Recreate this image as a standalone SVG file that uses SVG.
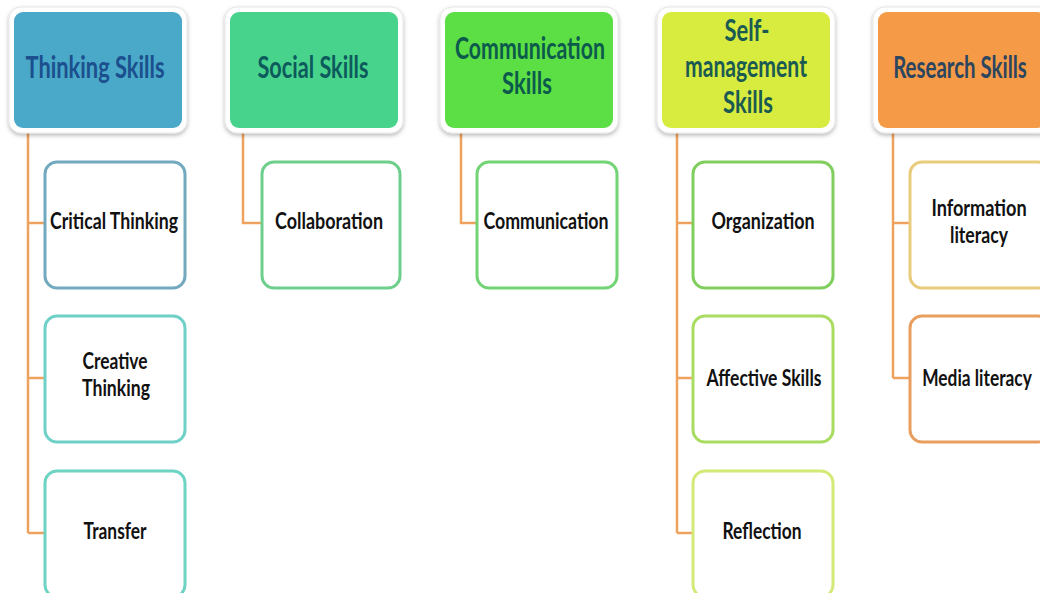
<svg xmlns="http://www.w3.org/2000/svg" width="1040" height="593" viewBox="0 0 1040 593">
<defs>
<filter id="sh" x="-10%" y="-10%" width="120%" height="125%">
<feDropShadow dx="0" dy="2" stdDeviation="2" flood-color="#000" flood-opacity="0.28"/>
</filter>
</defs>
<style>
.rim{fill:#fff;stroke:#e6e6e6;stroke-width:1}
.hd{font-family:Lato,"Liberation Sans",sans-serif;font-weight:bold;font-size:31px;text-anchor:middle}
.ch{fill:#fff;stroke-width:3}
.ct{font-family:Lato,"Liberation Sans",sans-serif;font-weight:bold;font-size:22px;text-anchor:middle;fill:#111}
.cn{fill:none;stroke:#EFA25E;stroke-width:2.5}
</style>
<rect width="1040" height="593" fill="#fff"/>

<g id="connectors">
<path class="cn" d="M28,130 V533 M28,223 H45 M28,378 H45 M28,533 H45"/>
<path class="cn" d="M243,130 V223 H262"/>
<path class="cn" d="M461,130 V223 H477"/>
<path class="cn" d="M677,130 V533 M677,223 H693 M677,378 H693 M677,533 H693"/>
<path class="cn" d="M893,130 V378 M893,223 H910 M893,378 H910"/>
</g>

<g id="thinking-skills">
<rect class="rim" x="9" y="7" width="178" height="126" rx="12" filter="url(#sh)"/>
<rect x="14" y="12" width="168" height="116" rx="9" fill="#4AA9C8"/>
<text class="hd" x="95" y="78" fill="#1B4F8E" textLength="139" lengthAdjust="spacingAndGlyphs">Thinking Skills</text>
</g>
<g id="social-skills">
<rect class="rim" x="225" y="7" width="178" height="126" rx="12" filter="url(#sh)"/>
<rect x="230" y="12" width="168" height="116" rx="9" fill="#48D38C"/>
<text class="hd" x="313" y="78" fill="#0D5A5C" textLength="111" lengthAdjust="spacingAndGlyphs">Social Skills</text>
</g>
<g id="communication-skills">
<rect class="rim" x="440" y="7" width="178" height="126" rx="12" filter="url(#sh)"/>
<rect x="445" y="12" width="168" height="116" rx="9" fill="#5BDF44"/>
<text class="hd" x="530" y="59" fill="#0C5A4C" textLength="150" lengthAdjust="spacingAndGlyphs">Communication</text>
<text class="hd" x="527" y="94" fill="#0C5A4C" textLength="50" lengthAdjust="spacingAndGlyphs">Skills</text>
</g>
<g id="self-management-skills">
<rect class="rim" x="657" y="7" width="178" height="126" rx="12" filter="url(#sh)"/>
<rect x="662" y="12" width="168" height="116" rx="9" fill="#D7EC3E"/>
<text class="hd" x="747" y="41" fill="#1A5A52" textLength="45" lengthAdjust="spacingAndGlyphs">Self-</text>
<text class="hd" x="746" y="77" fill="#1A5A52" textLength="122" lengthAdjust="spacingAndGlyphs">management</text>
<text class="hd" x="748" y="113" fill="#1A5A52" textLength="50" lengthAdjust="spacingAndGlyphs">Skills</text>
</g>
<g id="research-skills">
<rect class="rim" x="873" y="7" width="178" height="126" rx="12" filter="url(#sh)"/>
<rect x="878" y="12" width="168" height="116" rx="9" fill="#F59A46"/>
<text class="hd" transform="translate(960,78) scale(0.7,1)" x="0" y="0" fill="#2C4560" textLength="191" lengthAdjust="spacingAndGlyphs">Research Skills</text>
</g>

<g id="critical-thinking">
<rect class="ch" x="45" y="162" width="140" height="126" rx="12" stroke="#72A9BF"/>
<text class="ct" x="114" y="229" textLength="128" lengthAdjust="spacingAndGlyphs">Critical Thinking</text>
</g>
<g id="creative-thinking">
<rect class="ch" x="45" y="316" width="140" height="126" rx="12" stroke="#6FD0C8"/>
<text class="ct" x="115" y="369" textLength="65" lengthAdjust="spacingAndGlyphs">Creative</text>
<text class="ct" x="116" y="396" textLength="68" lengthAdjust="spacingAndGlyphs">Thinking</text>
</g>
<g id="transfer">
<rect class="ch" x="45" y="471" width="140" height="126" rx="12" stroke="#6DD3C2"/>
<text class="ct" x="115" y="539" textLength="63" lengthAdjust="spacingAndGlyphs">Transfer</text>
</g>
<g id="collaboration">
<rect class="ch" x="262" y="162" width="138" height="126" rx="12" stroke="#6ECF8C"/>
<text class="ct" x="329" y="229" textLength="108" lengthAdjust="spacingAndGlyphs">Collaboration</text>
</g>
<g id="communication">
<rect class="ch" x="477" y="162" width="140" height="126" rx="12" stroke="#72D474"/>
<text class="ct" x="546" y="229" textLength="125" lengthAdjust="spacingAndGlyphs">Communication</text>
</g>
<g id="organization">
<rect class="ch" x="693" y="162" width="140" height="126" rx="12" stroke="#80CF5E"/>
<text class="ct" x="763" y="229" textLength="103" lengthAdjust="spacingAndGlyphs">Organization</text>
</g>
<g id="affective-skills">
<rect class="ch" x="693" y="316" width="140" height="126" rx="12" stroke="#AADC62"/>
<text class="ct" x="764" y="386" textLength="115" lengthAdjust="spacingAndGlyphs">Affective Skills</text>
</g>
<g id="reflection">
<rect class="ch" x="693" y="471" width="140" height="126" rx="12" stroke="#D3E978"/>
<text class="ct" x="762" y="539" textLength="79" lengthAdjust="spacingAndGlyphs">Reflection</text>
</g>
<g id="information-literacy">
<rect class="ch" x="910" y="162" width="140" height="126" rx="12" stroke="#E9CB7C"/>
<text class="ct" transform="translate(979,216) scale(0.8,1)" x="0" y="0" textLength="119" lengthAdjust="spacingAndGlyphs">Information</text>
<text class="ct" x="979" y="243" textLength="58" lengthAdjust="spacingAndGlyphs">literacy</text>
</g>
<g id="media-literacy">
<rect class="ch" x="910" y="316" width="140" height="126" rx="12" stroke="#E99D5E"/>
<text class="ct" transform="translate(977,386) scale(0.8,1)" x="0" y="0" textLength="137" lengthAdjust="spacingAndGlyphs">Media literacy</text>
</g>
</svg>
